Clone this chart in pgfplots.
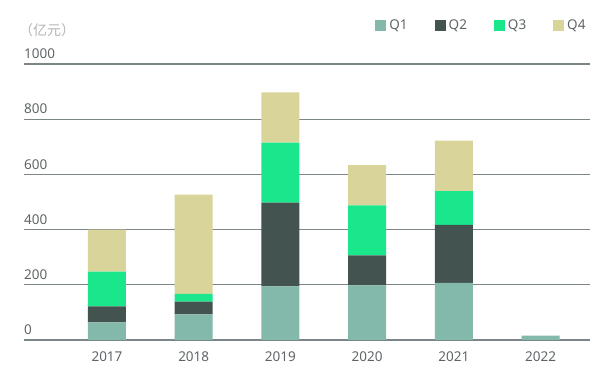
\documentclass[border=0pt]{standalone}
\usepackage{pgfplots}
\pgfplotsset{compat=1.18}
\usepackage{fontspec}
\setmainfont{Noto Sans}
\newfontfamily\cjk{Noto Sans CJK SC}
\definecolor{cQ1}{HTML}{82B9AA}
\definecolor{cQ2}{HTML}{435350}
\definecolor{cQ3}{HTML}{1AE68C}
\definecolor{cQ4}{HTML}{D8D49A}
\definecolor{gridc}{HTML}{7C8588}
\definecolor{txt}{HTML}{5E6466}
\definecolor{unitc}{HTML}{B4B4B4}
\begin{document}
\begin{tikzpicture}[x=1pt,y=1pt]
\path[use as bounding box] (0,0) rectangle (600,382);
\node[anchor=west, inner sep=0pt, text=unitc, font=\cjk\fontsize{14}{16}\selectfont] at (19,352) {（亿元）};
\begin{axis}[
  at={(24pt,42pt)}, anchor=south west,
  scale only axis, width=566pt, height=276pt,
  ybar stacked, bar width=38pt,
  xmin=-0.957, xmax=5.57, ymin=0, ymax=1000,
  axis line style={draw=none},
  major tick length=0pt,
  xtick={0,1,2,3,4,5},
  xticklabels={2017,2018,2019,2020,2021,2022},
  ytick={0,200,400,600,800,1000},
  ymajorgrids, grid style={color=gridc, line width=1.2pt},
  tick label style={text=txt, font=\fontsize{13.5}{15}\selectfont},
  yticklabel style={anchor=south west, inner sep=0pt, yshift=5pt},
  xticklabel style={anchor=north, inner sep=0pt, yshift=-12pt},
  /pgf/number format/assume math mode=true,
  /pgf/number format/1000 sep={},
  legend columns=4,
  legend image code/.code={\fill[#1] (0pt,-5.5pt) rectangle (11pt,5.5pt);},
  legend style={draw=none, fill=none, at={(1.003,1.139)}, anchor=east,
    font=\fontsize{13.5}{15}\selectfont, text=txt,
    nodes={inner sep=3pt},
    /tikz/every even column/.append style={column sep=24pt}},
]
\addplot[fill=cQ1, draw=none] coordinates {(0,64) (1,93) (2,194) (3,198) (4,207) (5,16)};
\addplot[fill=cQ2, draw=none] coordinates {(0,58) (1,46) (2,304) (3,109) (4,210) (5,0)};
\addplot[fill=cQ3, draw=none] coordinates {(0,126) (1,28) (2,217) (3,181) (4,122) (5,0)};
\addplot[fill=cQ4, draw=none] coordinates {(0,152) (1,360) (2,182) (3,146) (4,183) (5,0)};
\legend{Q1,Q2,Q3,Q4}
\end{axis}
\end{tikzpicture}
\end{document}
